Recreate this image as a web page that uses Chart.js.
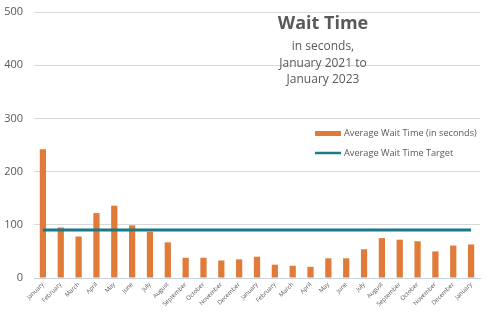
<!DOCTYPE html>
<html>
<head>
<meta charset="utf-8">
<script src="https://cdn.jsdelivr.net/npm/chart.js@4"></script>
<style>
    html, body { margin: 0; padding: 0; background: #ffffff; }
    #wrap { position: relative; width: 495px; height: 315px; }
</style>
</head>
<body>
<div id="wrap"><canvas id="chart" width="495" height="315"></canvas></div>
<script>
const months = ['January', 'February', 'March', 'April', 'May', 'June', 'July', 'August',
    'September', 'October', 'November', 'December', 'January', 'February', 'March', 'April',
    'May', 'June', 'July', 'August', 'September', 'October', 'November', 'December', 'January'];
const waitTime = [242, 95, 78, 122, 136, 99, 87, 67, 38, 38, 33, 35, 40, 25, 23, 21,
    37, 37, 54, 75, 72, 69, 50, 61, 63];
const waitTarget = [90, 90, 90, 90, 90, 90, 90, 90, 90, 90, 90, 90, 90, 90, 90, 90,
    90, 90, 90, 90, 90, 90, 90, 90, 90];
const titleLines = ['in seconds,', 'January 2021 to', 'January 2023'];

const orange = '#E07B39';
const teal = '#1B7A87';
const textGray = '#595959';

// title block and legend sit inside the plot area
const overlayText = {
    id: 'overlayText',
    afterDraw(chart) {
        const ctx = chart.ctx;
        const bars = chart.data.datasets[1];
        const target = chart.data.datasets[0];
        ctx.save();
        ctx.textAlign = 'center';
        ctx.textBaseline = 'middle';
        ctx.fillStyle = textGray;
        ctx.font = 'bold 18px "Open Sans"';
        ctx.fillText('Wait Time', 323, 24);
        ctx.font = '12px "Open Sans"';
        titleLines.forEach((t, i) => ctx.fillText(t, 323, 47 + i * 16.5));

        ctx.textAlign = 'left';
        ctx.font = '9.2px "Open Sans"';
        ctx.fillStyle = bars.backgroundColor;
        ctx.fillRect(315, 131, 26, 5);
        ctx.fillStyle = textGray;
        ctx.fillText(bars.label, 344, 133.5);
        ctx.strokeStyle = target.borderColor;
        ctx.lineWidth = 2.5;
        ctx.beginPath();
        ctx.moveTo(315, 153);
        ctx.lineTo(341, 153);
        ctx.stroke();
        ctx.fillText(target.label, 344, 153);
        ctx.restore();
    }
};

new Chart(document.getElementById('chart').getContext('2d'), {
    type: 'bar',
    data: {
        labels: months,
        datasets: [{
            type: 'line',
            label: 'Average Wait Time Target',
            data: waitTarget,
            borderColor: teal,
            borderWidth: 3,
            pointRadius: 0,
            order: 0
        }, {
            label: 'Average Wait Time (in seconds)',
            data: waitTime,
            backgroundColor: orange,
            barPercentage: 0.7,
            categoryPercentage: 0.5,
            order: 1
        }]
    },
    options: {
        responsive: false,
        animation: false,
        layout: { padding: { top: 12, right: 15, left: 0, bottom: 0 } },
        plugins: {
            legend: { display: false },
            tooltip: { enabled: false }
        },
        scales: {
            x: {
                afterFit(scale) { scale.height = 37; },
                grid: { display: false, drawTicks: false },
                border: { color: '#C9D3E0' },
                ticks: {
                    color: textGray,
                    font: { size: 6, family: '"Open Sans"' },
                    minRotation: 45,
                    maxRotation: 45,
                    autoSkip: false,
                    padding: 3
                }
            },
            y: {
                min: 0,
                max: 500,
                afterFit(scale) {
                    scale.width = 34;
                    scale.paddingTop = 0;
                },
                grid: { color: '#D9D9D9', drawTicks: false },
                border: { display: false },
                ticks: {
                    stepSize: 100,
                    color: textGray,
                    font: { size: 11, family: '"Open Sans"' },
                    padding: 11
                }
            }
        }
    },
    plugins: [overlayText]
});
</script>
</body>
</html>
